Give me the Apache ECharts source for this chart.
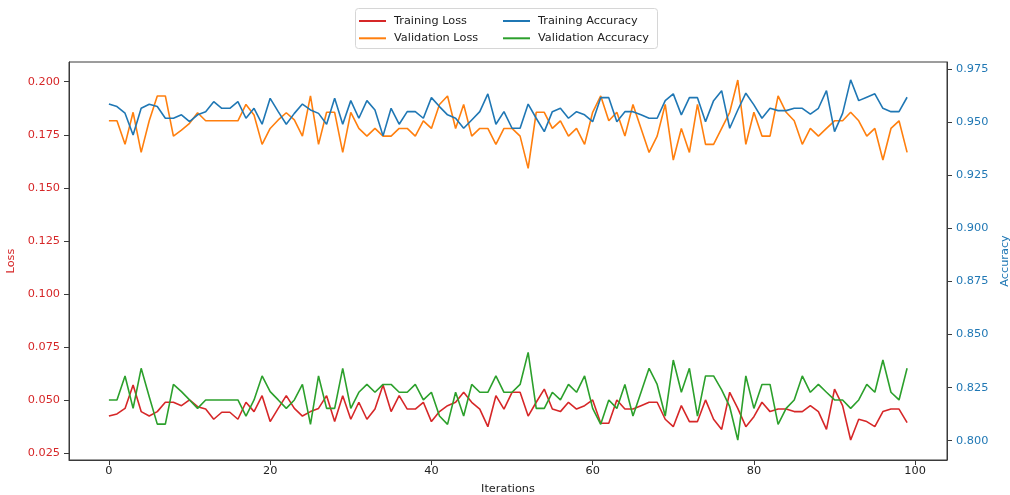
<!DOCTYPE html>
<html>
<head>
<meta charset="utf-8">
<script src="https://cdn.jsdelivr.net/npm/echarts@6/dist/echarts.min.js"></script>
<style>
  html, body { margin: 0; padding: 0; background: #fff; }
  #chart { width: 1010px; height: 495px; }
</style>
</head>
<body>
<div id="chart"></div>
<script>
// Per-iteration metrics
const trainingLoss = [
  0.0425, 0.0435, 0.0461, 0.0571, 0.0446, 0.0425, 0.0446, 0.0490, 0.0490, 0.0474,
  0.0501, 0.0469, 0.0458, 0.0410, 0.0443, 0.0443, 0.0410, 0.0490, 0.0446, 0.0521,
  0.0399, 0.0461, 0.0521, 0.0461, 0.0425, 0.0446, 0.0461, 0.0521, 0.0399, 0.0521,
  0.0410, 0.0490, 0.0410, 0.0458, 0.0571, 0.0446, 0.0521, 0.0458, 0.0458, 0.0490,
  0.0399, 0.0446, 0.0474, 0.0490, 0.0537, 0.0490, 0.0458, 0.0375, 0.0521, 0.0458,
  0.0537, 0.0537, 0.0425, 0.0490, 0.0552, 0.0458, 0.0446, 0.0490, 0.0458, 0.0474,
  0.0501, 0.0391, 0.0391, 0.0501, 0.0458, 0.0458, 0.0474, 0.0490, 0.0490, 0.0410,
  0.0375, 0.0474, 0.0399, 0.0399, 0.0501, 0.0410, 0.0362, 0.0537, 0.0461, 0.0375,
  0.0422, 0.0490, 0.0446, 0.0458, 0.0458, 0.0446, 0.0446, 0.0474, 0.0446, 0.0362,
  0.0552, 0.0474, 0.0312, 0.0410, 0.0399, 0.0375, 0.0446, 0.0458, 0.0458, 0.0394
];
const validationLoss = [
  0.1816, 0.1816, 0.1705, 0.1856, 0.1667, 0.1816, 0.1933, 0.1933, 0.1744, 0.1772,
  0.1804, 0.1854, 0.1816, 0.1816, 0.1816, 0.1816, 0.1816, 0.1893, 0.1843, 0.1705,
  0.1780, 0.1820, 0.1854, 0.1820, 0.1744, 0.1933, 0.1705, 0.1856, 0.1856, 0.1667,
  0.1856, 0.1780, 0.1744, 0.1780, 0.1744, 0.1744, 0.1780, 0.1780, 0.1744, 0.1816,
  0.1780, 0.1893, 0.1933, 0.1780, 0.1893, 0.1744, 0.1780, 0.1780, 0.1705, 0.1780,
  0.1780, 0.1744, 0.1592, 0.1856, 0.1856, 0.1780, 0.1816, 0.1744, 0.1780, 0.1705,
  0.1856, 0.1933, 0.1816, 0.1856, 0.1744, 0.1893, 0.1780, 0.1667, 0.1744, 0.1893,
  0.1631, 0.1780, 0.1667, 0.1893, 0.1705, 0.1705, 0.1780, 0.1856, 0.2008, 0.1705,
  0.1856, 0.1744, 0.1744, 0.1933, 0.1856, 0.1816, 0.1705, 0.1780, 0.1744, 0.1780,
  0.1816, 0.1816, 0.1856, 0.1816, 0.1744, 0.1780, 0.1631, 0.1780, 0.1816, 0.1667
];
const trainingAccuracy = [
  0.9586, 0.9574, 0.9543, 0.9440, 0.9566, 0.9585, 0.9574, 0.9519, 0.9519, 0.9535,
  0.9503, 0.9535, 0.9550, 0.9597, 0.9566, 0.9566, 0.9597, 0.9519, 0.9566, 0.9491,
  0.9613, 0.9550, 0.9491, 0.9542, 0.9586, 0.9558, 0.9542, 0.9491, 0.9613, 0.9491,
  0.9602, 0.9519, 0.9602, 0.9558, 0.9436, 0.9566, 0.9491, 0.9550, 0.9550, 0.9519,
  0.9616, 0.9574, 0.9535, 0.9519, 0.9472, 0.9511, 0.9550, 0.9634, 0.9491, 0.9550,
  0.9472, 0.9472, 0.9586, 0.9519, 0.9456, 0.9550, 0.9566, 0.9519, 0.9550, 0.9535,
  0.9503, 0.9616, 0.9616, 0.9503, 0.9550, 0.9550, 0.9535, 0.9519, 0.9519, 0.9602,
  0.9634, 0.9535, 0.9616, 0.9616, 0.9503, 0.9602, 0.9649, 0.9472, 0.9558, 0.9637,
  0.9582, 0.9519, 0.9566, 0.9555, 0.9555, 0.9566, 0.9566, 0.9538, 0.9566, 0.9649,
  0.9456, 0.9542, 0.9700, 0.9602, 0.9618, 0.9634, 0.9566, 0.9550, 0.9550, 0.9618
];
const validationAccuracy = [
  0.8192, 0.8192, 0.8305, 0.8152, 0.8341, 0.8207, 0.8078, 0.8078, 0.8265, 0.8231,
  0.8192, 0.8152, 0.8192, 0.8192, 0.8192, 0.8192, 0.8192, 0.8116, 0.8192, 0.8305,
  0.8231, 0.8192, 0.8152, 0.8192, 0.8265, 0.8077, 0.8305, 0.8152, 0.8152, 0.8341,
  0.8152, 0.8228, 0.8265, 0.8228, 0.8265, 0.8265, 0.8228, 0.8228, 0.8265, 0.8192,
  0.8228, 0.8116, 0.8077, 0.8228, 0.8116, 0.8265, 0.8228, 0.8228, 0.8305, 0.8228,
  0.8228, 0.8265, 0.8416, 0.8152, 0.8152, 0.8228, 0.8192, 0.8265, 0.8228, 0.8305,
  0.8152, 0.8077, 0.8192, 0.8152, 0.8265, 0.8116, 0.8228, 0.8341, 0.8265, 0.8116,
  0.8380, 0.8228, 0.8341, 0.8116, 0.8305, 0.8305, 0.8239, 0.8160, 0.8003, 0.8305,
  0.8152, 0.8265, 0.8265, 0.8077, 0.8152, 0.8192, 0.8305, 0.8228, 0.8265, 0.8228,
  0.8192, 0.8192, 0.8152, 0.8192, 0.8265, 0.8228, 0.8380, 0.8228, 0.8192, 0.8341
];

// Tick positions for the three axes
const iterationTicks = [0, 20, 40, 60, 80, 100];
const lossTicks = [0.025, 0.050, 0.075, 0.100, 0.125, 0.150, 0.175, 0.200];
const accuracyTicks = [0.800, 0.825, 0.850, 0.875, 0.900, 0.925, 0.950, 0.975];

const FONT = 'DejaVu Sans';
const RED = '#d62728', ORANGE = '#ff7f0e', BLUE = '#1f77b4', GREEN = '#2ca02c';
const FRAME = '#3a3a3a';

const pairs = arr => arr.map((v, i) => [i, v]);

const chart = echarts.init(document.getElementById('chart'), null, { renderer: 'canvas' });

function lineSeries(name, data, color, yAxisIndex) {
  return {
    name, type: 'line', yAxisIndex,
    data: pairs(data),
    symbol: 'none',
    lineStyle: { color, width: 1.6 },
    itemStyle: { color },
    animation: false
  };
}

const legendBase = {
  orient: 'vertical',
  icon: 'rect',
  itemWidth: 27,
  itemHeight: 2,
  itemGap: 3.3,
  padding: 0,
  selectedMode: false,
  textStyle: { fontFamily: FONT, fontSize: 11.3, color: '#222', lineHeight: 14, padding: [0, 0, 0, 3] }
};

chart.setOption({
  backgroundColor: '#fff',
  animation: false,
  grid: {
    left: 69, right: 63, top: 62, bottom: 35,
    outerBoundsMode: 'none',
    containLabel: false,
    show: true, borderColor: FRAME, borderWidth: 1, backgroundColor: 'transparent'
  },
  graphic: [{
    type: 'rect',
    shape: { x: 355.5, y: 8.5, width: 302, height: 40, r: 3 },
    style: { fill: '#fff', stroke: '#d6d6d6', lineWidth: 1 },
    z: 0
  }],
  legend: [
    Object.assign({}, legendBase, { left: 359, top: 14, data: ['Training Loss', 'Validation Loss'] }),
    Object.assign({}, legendBase, { left: 503, top: 14, data: ['Training Accuracy', 'Validation Accuracy'] })
  ],
  xAxis: {
    type: 'value',
    min: -4.95, max: 103.95,
    name: 'Iterations', nameLocation: 'middle', nameGap: 24,
    nameTextStyle: { fontFamily: FONT, fontSize: 11.3, color: '#222' },
    axisLine: { show: true, onZero: false, lineStyle: { color: FRAME } },
    axisTick: { show: true, length: 5, lineStyle: { color: FRAME }, customValues: iterationTicks },
    axisLabel: { fontFamily: FONT, fontSize: 11.3, color: '#222', margin: 6, customValues: iterationTicks },
    splitLine: { show: false }
  },
  yAxis: [{
    type: 'value',
    position: 'left',
    min: 0.0218, max: 0.2093,
    name: 'Loss', nameLocation: 'middle', nameGap: 46,
    nameTextStyle: { fontFamily: FONT, fontSize: 11.3, color: RED },
    axisLine: { show: true, onZero: false, lineStyle: { color: FRAME } },
    axisTick: { show: true, length: 5, lineStyle: { color: FRAME }, customValues: lossTicks },
    axisLabel: {
      fontFamily: FONT, fontSize: 11.3, color: RED, margin: 9,
      customValues: lossTicks, formatter: v => v.toFixed(3)
    },
    splitLine: { show: false }
  }, {
    type: 'value',
    position: 'right',
    min: 0.7909, max: 0.9784,
    name: 'Accuracy', nameLocation: 'middle', nameGap: 40,
    nameTextStyle: { fontFamily: FONT, fontSize: 11.3, color: BLUE },
    axisLine: { show: true, onZero: false, lineStyle: { color: FRAME } },
    axisTick: { show: true, length: 5, lineStyle: { color: FRAME }, customValues: accuracyTicks },
    axisLabel: {
      fontFamily: FONT, fontSize: 11.3, color: BLUE, margin: 9,
      customValues: accuracyTicks, formatter: v => v.toFixed(3)
    },
    splitLine: { show: false }
  }],
  series: [
    lineSeries('Training Loss', trainingLoss, RED, 0),
    lineSeries('Validation Loss', validationLoss, ORANGE, 0),
    lineSeries('Training Accuracy', trainingAccuracy, BLUE, 1),
    lineSeries('Validation Accuracy', validationAccuracy, GREEN, 1)
  ]
});
</script>
</body>
</html>
